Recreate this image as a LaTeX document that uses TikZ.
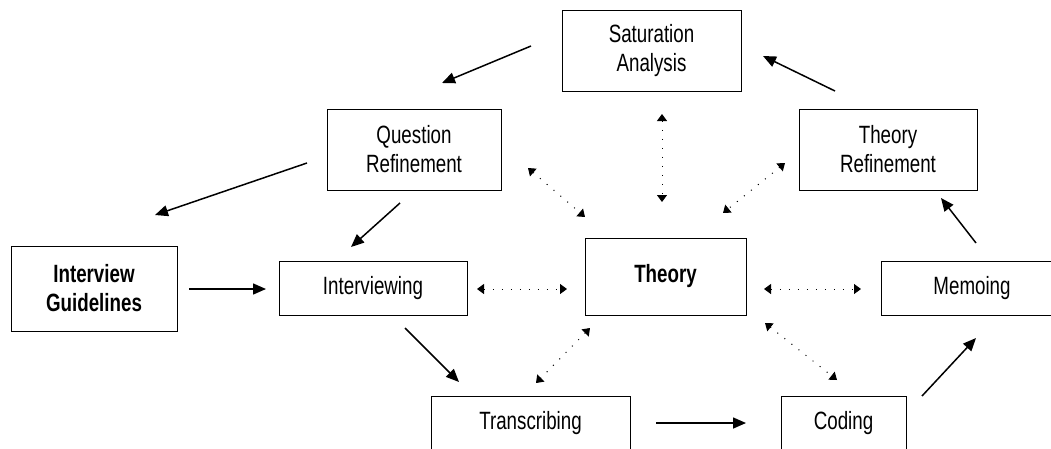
\documentclass[tikz,border=0pt]{standalone}
\usepackage{fontspec}
\setmainfont{Liberation Sans}[FakeStretch=0.75]
\usetikzlibrary{arrows.meta}

\tikzset{
    box/.style={draw, line width=0.9pt, inner sep=0pt, align=center,
        font=\fontsize{25}{29}\selectfont},
    flow/.style={line width=1.5pt, -{Triangle[length=13pt,width=11pt]}},
    link/.style={line width=1pt, dash pattern=on 1pt off 8pt,
        {Triangle[length=7pt,width=10pt]}-{Triangle[length=7pt,width=10pt]}}
}

\begin{document}
\begin{tikzpicture}[x=1pt, y=-1pt]

        \useasboundingbox (0,0) rectangle (1051,448);

        % boxes
        \node [box, minimum width=179pt, minimum height=81pt] (sat) at (651.5,50.5) {Saturation\\Analysis};
        \node [box, minimum width=174pt, minimum height=81pt] (qref) at (414,149.5) {Question\\Refinement};
        \node [box, minimum width=178pt, minimum height=81pt] (tref) at (888,149.5) {Theory\\Refinement};
        \node [box, minimum width=166pt, minimum height=85pt] (guide) at (94,288.5) {\bfseries Interview\\\bfseries Guidelines};
        \node [box, minimum width=188pt, minimum height=54pt] (interv) at (373,288) {Interviewing};
        \node [box, minimum width=161pt, minimum height=77pt] (theory) at (665.5,276.5) {\bfseries Theory};
        \node [box, minimum width=182pt, minimum height=54pt] (memo) at (972,288) {Memoing};
        \node [box, minimum width=199pt, minimum height=54pt] (trans) at (530.5,423) {Transcribing};
        \node [box, minimum width=125pt, minimum height=54pt] (cod) at (843.5,423) {Coding};

        % arrow ends
        \coordinate (satOut) at (531,46);
        \coordinate (qrefIn) at (442,83);
        \coordinate (qrefOutA) at (307,163);
        \coordinate (guideIn) at (155,215);
        \coordinate (qrefOutB) at (400,203);
        \coordinate (intervInA) at (351,247);
        \coordinate (guideOut) at (189,289);
        \coordinate (intervInB) at (266,289);
        \coordinate (intervOut) at (405,328);
        \coordinate (transIn) at (459,382);
        \coordinate (transOut) at (656,423);
        \coordinate (codIn) at (746,423);
        \coordinate (codOut) at (922,396);
        \coordinate (memoIn) at (976,338);
        \coordinate (memoOut) at (976,243);
        \coordinate (trefIn) at (941,198);
        \coordinate (trefOut) at (835,91);
        \coordinate (satIn) at (763,56);

        % the cycle
        \draw [flow] (satOut) -- (qrefIn);
        \draw [flow] (qrefOutA) -- (guideIn);
        \draw [flow] (qrefOutB) -- (intervInA);
        \draw [flow] (guideOut) -- (intervInB);
        \draw [flow] (intervOut) -- (transIn);
        \draw [flow] (transOut) -- (codIn);
        \draw [flow] (codOut) -- (memoIn);
        \draw [flow] (memoOut) -- (trefIn);
        \draw [flow] (trefOut) -- (satIn);

        % links to theory
        \coordinate (satT) at (662,114);
        \coordinate (thSat) at (662,202);
        \coordinate (qrefT) at (528,168);
        \coordinate (thQref) at (585,217);
        \coordinate (trefT) at (785,163);
        \coordinate (thTref) at (723,213);
        \coordinate (intervT) at (477,289);
        \coordinate (thInterv) at (567,289);
        \coordinate (thMemo) at (764,289);
        \coordinate (memoT) at (861,289);
        \coordinate (thTrans) at (590,328);
        \coordinate (transT) at (536,383);
        \coordinate (thCod) at (765,323);
        \coordinate (codT) at (837,380);

        \draw [link] (satT) -- (thSat);
        \draw [link] (qrefT) -- (thQref);
        \draw [link] (trefT) -- (thTref);
        \draw [link] (intervT) -- (thInterv);
        \draw [link] (thMemo) -- (memoT);
        \draw [link] (thTrans) -- (transT);
        \draw [link] (thCod) -- (codT);

\end{tikzpicture}
\end{document}
